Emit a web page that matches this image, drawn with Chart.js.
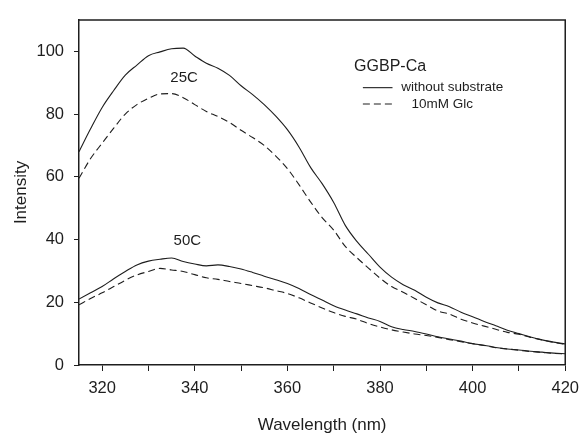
<!DOCTYPE html>
<html>
<head>
<meta charset="utf-8">
<script src="https://cdn.jsdelivr.net/npm/chart.js@4"></script>
<style>
  html,body{margin:0;padding:0;background:#fff;}
  #wrap{width:587px;height:437px;position:relative;}
</style>
</head>
<body>
<div id="wrap"><canvas id="spectra"></canvas></div>
<script>
// wavelength grid (nm)
const wavelengths=[315,317.5,320,322.5,325,327.5,330,332.5,335,337.5,340,342.5,345,347.5,350,352.5,355,357.5,360,362.5,365,367.5,370,372.5,375,377.5,380,382.5,385,387.5,390,392.5,395,397.5,400,402.5,405,407.5,410,412.5,415,417.5,420];

// 25C, without substrate
const noSub25=[68,75.3,82.1,87.5,92.4,95.6,98.6,99.8,100.8,101,98.5,96.2,94.6,92.3,89,86.2,83,79.3,75,69.5,63,57.8,51.8,44.5,39.4,35.3,31.2,28,25.6,23.8,21.6,19.8,18.6,16.8,15.4,13.9,12.5,11.1,10,8.9,8,7.3,6.7];
// 25C, 10mM Glc
const glc25=[59.5,65.8,70.7,75.5,80,83,85,86.4,86.5,85.2,83,80.8,79.2,77.3,74.8,72.5,70,66.6,62.6,57.5,52,47,43,37.8,34.2,30.9,27.7,25,23.2,21.2,19.2,17.2,16.2,14.6,13.4,12.4,11.4,10.4,9.8,8.8,8,7.2,6.6];
// 50C, without substrate
const noSub50=[21,23,25,27.5,29.8,31.9,33.1,33.7,34.1,33,32.2,31.6,31.9,31.4,30.6,29.5,28.3,27.2,26,24.4,22.5,20.7,18.9,17.5,16.3,15,13.9,12.2,11.3,10.7,9.9,9,8.3,7.6,6.8,6.3,5.6,5.1,4.8,4.4,4.1,3.8,3.6];
// 50C, 10mM Glc
const glc50=[19.2,21.2,23,25,27,28.7,29.8,30.8,30.3,29.8,28.8,27.8,27.3,26.6,26,25.3,24.6,23.7,22.8,21.4,19.8,18.2,16.7,15.5,14.6,13.2,12.1,11.2,10.5,9.9,9.4,8.8,8.1,7.4,6.8,6.2,5.5,5.1,4.7,4.3,4,3.7,3.5];

const xLabels=[320,340,360,380,400,420];
const yLabels=[0,20,40,60,80,100];

const ink='#1e1e1e';
const font='"Liberation Sans", Arial, sans-serif';
const toPts=vals=>vals.map((v,i)=>({x:wavelengths[i],y:v}));

const line=(label,vals,dash)=>({
  label:label,
  data:toPts(vals),
  borderColor:ink,
  borderWidth:1.1,
  borderDash:dash,
  pointRadius:0,
  cubicInterpolationMode:'monotone',
  fill:false
});

// frame, curve labels and the inset legend
const notes={
  id:'notes',
  afterDatasetsDraw(chart){
    const {ctx,chartArea:a,scales:{x,y}}=chart;
    ctx.save();
    ctx.strokeStyle=ink;
    ctx.lineWidth=1.5;
    ctx.beginPath();
    ctx.moveTo(a.left,a.top);ctx.lineTo(a.right,a.top);ctx.lineTo(a.right,a.bottom);
    ctx.stroke();

    ctx.fillStyle=ink;
    ctx.textBaseline='middle';
    ctx.textAlign='center';
    ctx.font='15px '+font;
    ctx.fillText('25C',x.getPixelForValue(337.7),y.getPixelForValue(91.4));
    ctx.fillText('50C',x.getPixelForValue(338.4),y.getPixelForValue(39.5));

    ctx.textAlign='left';
    ctx.font='16px '+font;
    ctx.fillText('GGBP-Ca',x.getPixelForValue(374.4),y.getPixelForValue(95.2));

    ctx.font='13.5px '+font;
    const x0=x.getPixelForValue(376.3),x1=x.getPixelForValue(382.7);
    const ySolid=y.getPixelForValue(88.4),yDash=y.getPixelForValue(83.2);
    ctx.lineWidth=1.1;
    ctx.beginPath();ctx.moveTo(x0,ySolid);ctx.lineTo(x1,ySolid);ctx.stroke();
    ctx.setLineDash([7,4]);
    ctx.beginPath();ctx.moveTo(x0,yDash);ctx.lineTo(x1,yDash);ctx.stroke();
    ctx.setLineDash([]);
    ctx.fillText('without substrate',x.getPixelForValue(384.6),ySolid);
    ctx.fillText('10mM Glc',x.getPixelForValue(386.8),yDash);
    ctx.restore();
  }
};

new Chart(document.getElementById('spectra'),{
  type:'line',
  data:{
    datasets:[
      line('without substrate 25C',noSub25,[]),
      line('10mM Glc 25C',glc25,[7,4]),
      line('without substrate 50C',noSub50,[]),
      line('10mM Glc 50C',glc50,[7,4])
    ]
  },
  options:{
    responsive:true,
    maintainAspectRatio:false,
    animation:false,
    layout:{padding:{top:14,right:19,left:0,bottom:0}},
    plugins:{legend:{display:false},tooltip:{enabled:false}},
    scales:{
      x:{
        type:'linear',
        min:315,max:420,
        border:{color:ink,width:1.5},
        grid:{drawOnChartArea:false,tickLength:6,color:ink,tickWidth:1},
        ticks:{
          stepSize:10,includeBounds:false,padding:8,color:ink,
          font:{size:16.5,family:font},
          maxRotation:0,autoSkip:false,
          callback:v=>xLabels.includes(v)?String(v):''
        },
        title:{display:true,text:'Wavelength (nm)',color:ink,padding:{top:1,bottom:1},
          font:{size:17,family:font}},
        afterFit(s){s.height=72;}
      },
      y:{
        min:0,max:110,
        border:{color:ink,width:1.5},
        grid:{drawOnChartArea:false,tickLength:5,color:ink,tickWidth:1},
        ticks:{
          stepSize:20,includeBounds:false,padding:10,color:ink,
          font:{size:16.5,family:font},
          callback:v=>yLabels.includes(v)?String(v):''
        },
        title:{display:true,text:'Intensity',color:ink,padding:{top:11,bottom:0},
          font:{size:17,family:font}},
        afterFit(s){s.width=79;}
      }
    }
  },
  plugins:[notes]
});
</script>
</body>
</html>
